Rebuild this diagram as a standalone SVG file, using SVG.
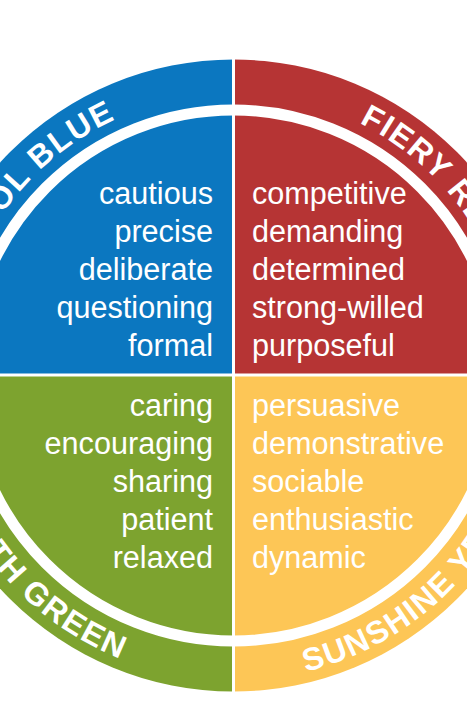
<svg xmlns="http://www.w3.org/2000/svg" xmlns:xlink="http://www.w3.org/1999/xlink" width="467" height="720" viewBox="0 0 467 720">
  <style>
    .word { font-family: "Liberation Sans", Arial, sans-serif; font-size: 30.6px; fill: #ffffff; }
    .left { text-anchor: end; }
    .right { text-anchor: start; }
    .arc { font-family: "Liberation Sans", Arial, sans-serif; font-size: 32px; font-weight: bold; letter-spacing: 1.5px; fill: #ffffff; text-anchor: middle; }
  </style>
  <defs>
    <path id="pBlue" d="M-48.5,375.5 A282,282 0 0 1 233.5,93.5"/>
    <path id="pRed" d="M233.5,93.5 A282,282 0 0 1 515.5,375.5"/>
    <path id="pGreen" d="M-71.5,375.5 A305,305 0 0 0 233.5,680.5"/>
    <path id="pYellow" d="M233.5,680.5 A305,305 0 0 0 538.5,375.5"/>
  </defs>
  <rect width="467" height="720" fill="#ffffff"/>
  <g id="blue">
    <path d="M233.5,375.5 L-82.5,375.5 A316,316 0 0 1 233.5,59.5 Z" fill="#0b77c0"/>
    <text class="arc"><textPath xlink:href="#pBlue" href="#pBlue" startOffset="50%">COOL BLUE</textPath></text>
    <text class="word left" x="213" y="204">cautious</text>
    <text class="word left" x="213" y="242">precise</text>
    <text class="word left" x="213" y="280">deliberate</text>
    <text class="word left" x="213" y="318">questioning</text>
    <text class="word left" x="213" y="356">formal</text>
  </g>
  <g id="red">
    <path d="M233.5,375.5 L233.5,59.5 A316,316 0 0 1 549.5,375.5 Z" fill="#b63434"/>
    <text class="arc"><textPath xlink:href="#pRed" href="#pRed" startOffset="50%">FIERY RED</textPath></text>
    <text class="word right" x="252" y="204">competitive</text>
    <text class="word right" x="252" y="242">demanding</text>
    <text class="word right" x="252" y="280">determined</text>
    <text class="word right" x="252" y="318">strong-willed</text>
    <text class="word right" x="252" y="356">purposeful</text>
  </g>
  <g id="yellow">
    <path d="M233.5,375.5 L549.5,375.5 A316,316 0 0 1 233.5,691.5 Z" fill="#fdc656"/>
    <text class="arc"><textPath xlink:href="#pYellow" href="#pYellow" startOffset="50%">SUNSHINE YELLOW</textPath></text>
    <text class="word right" x="252" y="416">persuasive</text>
    <text class="word right" x="252" y="454">demonstrative</text>
    <text class="word right" x="252" y="492">sociable</text>
    <text class="word right" x="252" y="530">enthusiastic</text>
    <text class="word right" x="252" y="568">dynamic</text>
  </g>
  <g id="green">
    <path d="M233.5,375.5 L233.5,691.5 A316,316 0 0 1 -82.5,375.5 Z" fill="#7da32f"/>
    <text class="arc"><textPath xlink:href="#pGreen" href="#pGreen" startOffset="50%">EARTH GREEN</textPath></text>
    <text class="word left" x="213" y="416">caring</text>
    <text class="word left" x="213" y="454">encouraging</text>
    <text class="word left" x="213" y="492">sharing</text>
    <text class="word left" x="213" y="530">patient</text>
    <text class="word left" x="213" y="568">relaxed</text>
  </g>
  <g id="connectors">
    <circle cx="233.5" cy="375.5" r="265.5" fill="none" stroke="#ffffff" stroke-width="11"/>
    <line x1="233.5" y1="50" x2="233.5" y2="700" stroke="#ffffff" stroke-width="3"/>
    <line x1="-90" y1="375" x2="560" y2="375" stroke="#ffffff" stroke-width="3"/>
  </g>
</svg>
